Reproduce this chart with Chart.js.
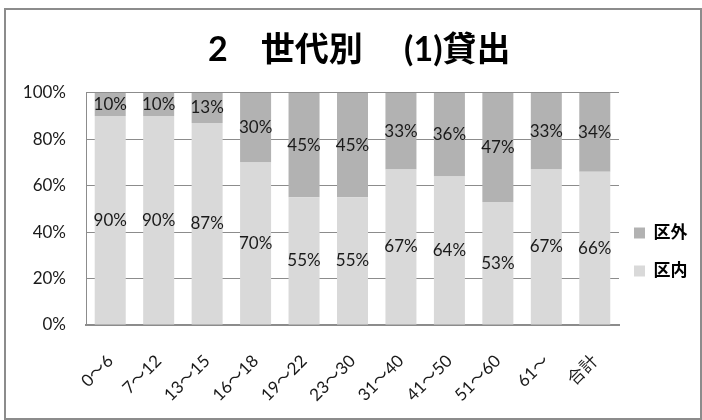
<!DOCTYPE html>
<html>
<head>
<meta charset="utf-8">
<script src="https://cdn.jsdelivr.net/npm/chart.js@4.4.1/dist/chart.umd.min.js"></script>
<style>
  body { margin: 0; background: #fff; }
  #wrap { position: relative; width: 702px; height: 420px; }
  #frame { position: absolute; left: 4px; top: 8px; width: 694px; height: 408px;
           border: 2px solid #8c8c8c; pointer-events: none; }
</style>
</head>
<body>
<div id="wrap">
  <canvas id="myChart" width="702" height="420"></canvas>
  <div id="frame"></div>
</div>
<script>
// data
var categories = ['0～6', '7～12', '13～15', '16～18', '19～22', '23～30', '31～40', '41～50', '51～60', '61～', '合計'];
var kunai = [90, 90, 87, 70, 55, 55, 67, 64, 53, 67, 66];   // 区内
var kugai = [10, 10, 13, 30, 45, 45, 33, 36, 47, 33, 34];   // 区外
var yTicks = [0, 20, 40, 60, 80, 100];

var FONT = 'Lato, "Noto Sans CJK JP", sans-serif';

// percent labels in the middle of every segment
var barLabels = {
  id: 'barLabels',
  afterDatasetsDraw: function(chart) {
    var ctx = chart.ctx;
    ctx.save();
    ctx.font = '17px ' + FONT;
    ctx.fillStyle = '#1a1a1a';
    ctx.textAlign = 'center';
    ctx.textBaseline = 'middle';
    chart.data.datasets.forEach(function(ds, i) {
      chart.getDatasetMeta(i).data.forEach(function(bar, j) {
        ctx.fillText(ds.data[j] + '%', bar.x, (bar.y + bar.base) / 2);
      });
    });
    ctx.restore();
  }
};

// legend sits lower and a bit more to the left than chart.js puts it
var legendShift = {
  id: 'legendShift',
  afterLayout: function(chart) {
    var lg = chart.legend;
    lg.top += 48; lg.bottom += 48;
    lg.left -= 6; lg.right -= 6;
  }
};

drawChart();

function drawChart(){
var ctx = document.getElementById('myChart').getContext('2d');
var chart = new Chart(ctx, {
    type: 'bar',
    data: {
        labels: categories,
        datasets: [{
            label: '区内',
            data: kunai,
            backgroundColor: '#d9d9d9',
            barPercentage: 0.64,
            categoryPercentage: 1
        },
        {
            label: '区外',
            data: kugai,
            backgroundColor: '#b2b2b2',
            barPercentage: 0.64,
            categoryPercentage: 1
        }]
    },
    options: {
        responsive: false,
        devicePixelRatio: 1,
        animation: false,
        layout: { padding: { left: 0, right: 0, top: 0, bottom: 12 } },
        plugins: {
            title: {
                display: true,
                text: '  2    世代別     (1)貸出',
                color: '#000',
                font: { family: FONT, size: 34, weight: 'bold', lineHeight: 1.2 },
                padding: { top: 30, bottom: 22 }
            },
            legend: {
                position: 'right',
                reverse: true,
                maxWidth: 83,
                labels: {
                    color: '#000',
                    font: { family: FONT, size: 17, weight: 'bold' },
                    boxWidth: 11,
                    boxHeight: 11,
                    padding: 21
                }
            },
            tooltip: { enabled: false }
        },
        scales: {
            x: {
                stacked: true,
                grid: { display: false },
                border: { color: '#8c8c8c', width: 2 },
                ticks: {
                    color: '#1a1a1a',
                    font: { family: FONT, size: 17 },
                    minRotation: 45,
                    maxRotation: 45,
                    padding: 18,
                    autoSkip: false
                },
                afterFit: function(scale) { scale.height = 83; }
            },
            y: {
                stacked: true,
                min: 0,
                max: 100,
                afterBuildTicks: function(scale) {
                    scale.ticks = yTicks.map(function(v) { return { value: v }; });
                },
                grid: { color: '#8c8c8c', drawTicks: false },
                border: { color: '#8c8c8c', width: 1 },
                ticks: {
                    color: '#1a1a1a',
                    font: { family: FONT, size: 17 },
                    padding: 20,
                    callback: function(v) { return v + '%'; }
                },
                afterFit: function(scale) { scale.width = 86; }
            }
        }
    },
    plugins: [barLabels, legendShift]
});
}
</script>
</body>
</html>
